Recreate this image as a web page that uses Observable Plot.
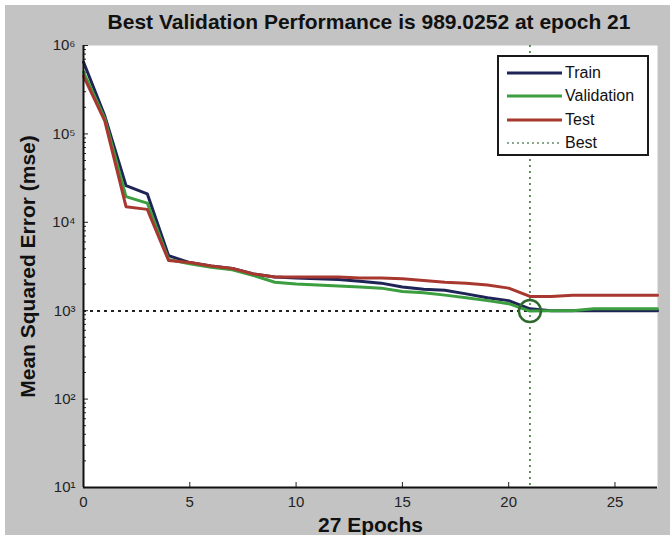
<!DOCTYPE html>
<html>
<head>
<meta charset="utf-8">
<script src="https://cdn.jsdelivr.net/npm/d3@7"></script>
<script src="https://cdn.jsdelivr.net/npm/@observablehq/plot@0.6"></script>
<style>
  html, body { margin: 0; padding: 0; background: #ffffff; }
  #wrap { position: relative; width: 670px; height: 541px; font-family: "Liberation Sans", Arial, sans-serif; }
  #chart { position: absolute; left: 5px; top: 5px; }
  #title { position: absolute; left: 83px; width: 572px; top: 10px; text-align: center; font-weight: bold; font-size: 21px; color: #111; white-space: nowrap; }
  #legend { position: absolute; left: 497px; top: 55px; width: 152px; height: 101px; border: 2px solid #1a1a1a; background: #fff; box-sizing: border-box; padding: 4px 0 0 8px; }
  .row { display: flex; align-items: center; height: 23.5px; font-size: 16px; color: #111; }
  .row svg { margin-right: 3px; }
</style>
</head>
<body>
<div id="wrap">
  <div id="chart"></div>
  <div id="title"></div>
  <div id="legend"></div>
</div>
<script>
const titleText = "Best Validation Performance is 989.0252 at epoch 21";
const xLabel = "27 Epochs";
const yLabel = "Mean Squared Error (mse)";
const seriesNames = ["Train", "Validation", "Test"];
const seriesColors = ["#1e2456", "#3b9e3f", "#a8382f"];
const bestColor = "#2e6a2e";
const epochs = [0,1,2,3,4,5,6,7,8,9,10,11,12,13,14,15,16,17,18,19,20,21,22,23,24,25,26,27];
const train = [6.5e5,1.6e5,2.6e4,2.1e4,4.2e3,3.5e3,3.2e3,3.0e3,2.6e3,2.4e3,2.35e3,2.3e3,2.25e3,2.15e3,2.05e3,1.85e3,1.75e3,1.7e3,1.55e3,1.4e3,1.3e3,1.05e3,1.0e3,1.0e3,1.0e3,1.0e3,1.0e3,1.0e3];
const validation = [5.0e5,1.5e5,1.95e4,1.65e4,3.8e3,3.4e3,3.1e3,2.9e3,2.5e3,2.1e3,2.0e3,1.95e3,1.9e3,1.85e3,1.8e3,1.65e3,1.6e3,1.5e3,1.4e3,1.3e3,1.2e3,989.0252,1.0e3,1.0e3,1.05e3,1.05e3,1.05e3,1.05e3];
const test = [4.5e5,1.4e5,1.5e4,1.4e4,3.7e3,3.5e3,3.2e3,3.0e3,2.6e3,2.4e3,2.4e3,2.4e3,2.4e3,2.35e3,2.35e3,2.3e3,2.2e3,2.1e3,2.05e3,1.95e3,1.8e3,1.45e3,1.45e3,1.5e3,1.5e3,1.5e3,1.5e3,1.5e3];
const bestEpoch = 21;
const bestValue = 989.0252;
const xTicks = [0,5,10,15,20,25];
const yMajor = [1e1,1e2,1e3,1e4,1e5,1e6];

const sup = {"0":"⁰","1":"¹","2":"²","3":"³","4":"⁴","5":"⁵","6":"⁶","7":"⁷","8":"⁸","9":"⁹"};
const fmtPow = v => "10" + String(Math.round(Math.log10(v))).split("").map(c => sup[c]).join("");

const yMinor = [];
for (let k = 1; k < 6; k++) for (let m = 2; m <= 9; m++) yMinor.push(m * Math.pow(10, k));

const allSeries = [train, validation, test];
const rows = [];
seriesNames.forEach((name, i) => epochs.forEach((e, j) => rows.push({epoch: e, value: allSeries[i][j], series: name})));

const chart = Plot.plot({
  width: 665,
  height: 530,
  marginLeft: 78,
  marginRight: 13,
  marginTop: 40,
  marginBottom: 48,
  style: {background: "#c3c3c3", fontFamily: "Liberation Sans, Arial, sans-serif", color: "#222"},
  x: {domain: [0, 27], label: null},
  y: {type: "log", domain: [10, 1e6], label: null},
  marks: [
    Plot.frame({fill: "white", stroke: null}),
    Plot.axisX(xTicks, {tickSize: -5, tickPadding: 14, fontSize: 15, label: xLabel, labelAnchor: "center", labelArrow: "none", labelOffset: 44}),
    Plot.axisY(yMajor, {tickSize: -5, tickPadding: 13, fontSize: 15, tickFormat: fmtPow, label: yLabel, labelAnchor: "center", labelArrow: "none", labelOffset: 63}),
    Plot.axisY(yMinor, {tickSize: -3, tickFormat: () => "", label: null}),
    Plot.ruleX([bestEpoch], {stroke: bestColor, strokeWidth: 1.5, strokeDasharray: "2,4"}),
    Plot.ruleY([bestValue], {stroke: "#222", strokeWidth: 2, strokeDasharray: "3,4"}),
    Plot.lineY(rows, {x: "epoch", y: "value", z: "series", stroke: d => seriesColors[seriesNames.indexOf(d.series)], strokeWidth: 3}),
    Plot.dot([{epoch: bestEpoch, value: bestValue}], {x: "epoch", y: "value", r: 11, stroke: bestColor, strokeWidth: 2.5, fill: "none"}),
    Plot.ruleX([0], {stroke: "#111", strokeWidth: 2}),
    Plot.ruleY([10], {stroke: "#111", strokeWidth: 2})
  ]
});
chart.querySelectorAll("[aria-label='x-axis label'] text, [aria-label='y-axis label'] text").forEach(t => {
  t.setAttribute("font-weight", "bold"); t.setAttribute("font-size", "21"); t.setAttribute("fill", "#111");
});
document.getElementById("chart").appendChild(chart);
document.getElementById("title").textContent = titleText;

const legend = document.getElementById("legend");
const legendItems = [
  {name: seriesNames[0], color: seriesColors[0], dash: null},
  {name: seriesNames[1], color: seriesColors[1], dash: null},
  {name: seriesNames[2], color: seriesColors[2], dash: null},
  {name: "Best", color: "#8aa88a", dash: "2,3"}
];
legendItems.forEach(it => {
  const row = document.createElement("div");
  row.className = "row";
  row.innerHTML = `<svg width="55" height="10"><line x1="0" x2="55" y1="5" y2="5" stroke="${it.color}" stroke-width="${it.dash ? 2 : 3}" ${it.dash ? `stroke-dasharray="${it.dash}"` : ""}/></svg><span>${it.name}</span>`;
  legend.appendChild(row);
});
</script>
</body>
</html>
